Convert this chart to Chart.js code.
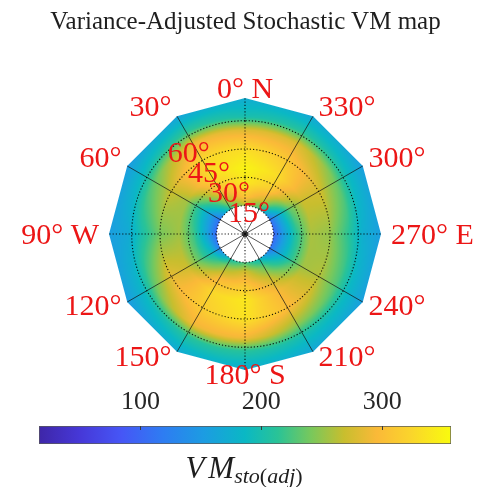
<!DOCTYPE html>
<html>
<head>
<meta charset="utf-8">
<script src="https://cdn.jsdelivr.net/npm/chart.js@4.4.1/dist/chart.umd.min.js"></script>
<style>
  html, body { margin: 0; padding: 0; background: #fff; }
  #wrap { position: relative; width: 483px; height: 487px; overflow: hidden; }
  #title { position: absolute; left: 0; top: 7px; width: 491px; text-align: center;
           font: 25px "Liberation Serif", serif; color: #1e1e1e; white-space: nowrap; }
  #sky { position: absolute; left: 0; top: 0; }
  #cbar { position: absolute; left: 0; top: 380px; }
  #cbLabel { position: absolute; left: 0; top: 450px; width: 488px; text-align: center;
             font: italic 31px "Liberation Serif", serif; color: #1e1e1e; white-space: nowrap; }
  #cbLabel sub { font-size: 22px; vertical-align: -5px; }
  #cbLabel .up { font-style: normal; }
</style>
</head>
<body>
<div id="wrap">
  <canvas id="sky" width="483" height="487"></canvas>
  <canvas id="cbar" width="483" height="75"></canvas>
  <div id="title">Variance-Adjusted Stochastic VM map</div>
  <div id="cbLabel">V<span style="margin-left:4px">M</span><sub>sto<span class="up">(</span>adj<span class="up">)</span></sub></div>
</div>
<script>
// Sky grid: azimuth of each spoke (deg, counter-clockwise from north) and zenith rings (deg)
const azimuthDeg = [0, 30, 60, 90, 120, 150, 180, 210, 240, 270, 300, 330];
const zenithDeg  = [15, 20, 27, 35, 45, 55, 62, 72];

// VM_sto(adj) along each azimuth, one value per zenith ring
const vmAz0   = [260, 310, 340, 350, 330, 280, 200, 172];
const vmAz30  = [210, 255, 305, 330, 325, 290, 215, 160];
const vmAz60  = [110, 150, 200, 255, 270, 235, 190, 152];
const vmAz90  = [100, 160, 220, 255, 240, 200, 168, 155];
const vmAz120 = [120, 190, 230, 270, 285, 235, 185, 152];
const vmAz150 = [200, 250, 295, 325, 315, 290, 210, 168];
const vmAz180 = [225, 275, 310, 340, 335, 290, 210, 172];
const vmAz210 = [190, 235, 270, 295, 300, 250, 198, 165];
const vmAz240 = [110, 160, 210, 255, 262, 228, 188, 155];
const vmAz270 = [ 95, 150, 210, 258, 250, 212, 175, 155];
const vmAz300 = [110, 165, 235, 270, 275, 238, 192, 155];
const vmAz330 = [215, 270, 315, 330, 310, 280, 210, 165];

// Axis annotations
const azimuthLabels = ['0\u00B0 N', '30\u00B0', '60\u00B0', '90\u00B0 W', '120\u00B0', '150\u00B0',
                       '180\u00B0 S', '210\u00B0', '240\u00B0', '270\u00B0 E', '300\u00B0', '330\u00B0'];
const ringTicks  = [15, 30, 45, 60];
const ringLabels = ['15\u00B0', '30\u00B0', '45\u00B0', '60\u00B0'];
const cbTicks = [100, 200, 300];
const cbRange = [16, 357];

const vmGrid = [vmAz0, vmAz30, vmAz60, vmAz90, vmAz120, vmAz150,
                vmAz180, vmAz210, vmAz240, vmAz270, vmAz300, vmAz330];

// parula-style colour ramp
const parula = [
  [0.00, [62, 38, 168]], [0.10, [70, 56, 216]], [0.20, [70, 86, 246]],
  [0.30, [46, 124, 242]], [0.40, [28, 156, 226]], [0.50, [10, 184, 196]],
  [0.58, [42, 195, 150]], [0.66, [120, 200, 92]], [0.74, [200, 190, 46]],
  [0.82, [250, 185, 56]], [0.90, [250, 212, 44]], [1.00, [249, 251, 14]]
];
function rampColor(t) {
  t = Math.max(0, Math.min(1, t));
  for (let i = 1; i < parula.length; i++) {
    if (t <= parula[i][0]) {
      const [t0, c0] = parula[i - 1], [t1, c1] = parula[i];
      const f = (t - t0) / (t1 - t0);
      return c0.map((v, k) => v + (c1[k] - v) * f);
    }
  }
  return parula[parula.length - 1][1];
}

const D2R = Math.PI / 180;
const rInner = zenithDeg[0];
const rOuter = zenithDeg[zenithDeg.length - 1];
const azStep = 360 / azimuthDeg.length;

// bilinear sample of the grid in (azimuth, zenith)
function sampleVM(az, zen) {
  const n = azimuthDeg.length;
  const i0 = Math.floor(az / azStep) % n, i1 = (i0 + 1) % n;
  const fa = (az - azimuthDeg[i0]) / azStep;
  let k = 0;
  while (k < zenithDeg.length - 2 && zen > zenithDeg[k + 1]) k++;
  const fz = Math.max(0, Math.min(1, (zen - zenithDeg[k]) / (zenithDeg[k + 1] - zenithDeg[k])));
  const a = vmGrid[i0][k] + (vmGrid[i0][k + 1] - vmGrid[i0][k]) * fz;
  const b = vmGrid[i1][k] + (vmGrid[i1][k + 1] - vmGrid[i1][k]) * fz;
  return a + (b - a) * fa;
}

// cartesian position (deg units) of an (azimuth, zenith) pair; north up, west left
const toXY = (az, r) => ({ x: -r * Math.sin(az * D2R), y: r * Math.cos(az * D2R) });

// interpolated field painted pixel by pixel through the chart scales
const skyField = {
  id: 'skyField',
  beforeDatasetsDraw(chart) {
    const { ctx, chartArea: a, scales: { x, y } } = chart;
    const w = Math.round(a.right - a.left), h = Math.round(a.bottom - a.top);
    const off = document.createElement('canvas');
    off.width = w; off.height = h;
    const octx = off.getContext('2d');
    const img = octx.createImageData(w, h);
    const pxPerDeg = Math.abs(x.getPixelForValue(1) - x.getPixelForValue(0));
    const halfStep = azStep / 2;
    for (let j = 0; j < h; j++) {
      const vy = y.getValueForPixel(a.top + j + 0.5);
      for (let i = 0; i < w; i++) {
        const vx = x.getValueForPixel(a.left + i + 0.5);
        const r = Math.hypot(vx, vy);
        if (r > rOuter + 2 || r < rInner - 2) continue;
        let az = Math.atan2(-vx, vy) / D2R;
        if (az < 0) az += 360;
        const loc = (az % azStep) - halfStep;
        const edge = rOuter * Math.cos(halfStep * D2R) / Math.cos(loc * D2R);
        const aOut = Math.max(0, Math.min(1, (edge - r) * pxPerDeg + 0.5));
        const aIn = Math.max(0, Math.min(1, (r - rInner) * pxPerDeg + 0.5));
        const alpha = Math.min(aOut, aIn);
        if (alpha <= 0) continue;
        const v = sampleVM(az, Math.max(rInner, Math.min(rOuter, r)));
        const c = rampColor((v - cbRange[0]) / (cbRange[1] - cbRange[0]));
        const p = (j * w + i) * 4;
        img.data[p] = c[0]; img.data[p + 1] = c[1]; img.data[p + 2] = c[2];
        img.data[p + 3] = Math.round(alpha * 255);
      }
    }
    octx.putImageData(img, 0, 0);
    ctx.drawImage(off, a.left, a.top);
  }
};

// azimuth and zenith annotations
const skyLabels = {
  id: 'skyLabels',
  afterDatasetsDraw(chart) {
    const { ctx, scales: { x, y } } = chart;
    const px = (p) => [x.getPixelForValue(p.x), y.getPixelForValue(p.y)];
    ctx.save();
    ctx.fillStyle = 'rgb(236,22,22)';
    ctx.font = '30px "Liberation Serif", serif';
    ctx.textBaseline = 'alphabetic';
    azimuthDeg.forEach((az, i) => {
      const [lx, ly] = px(toXY(az, 72.5));
      const dx = -Math.sin(az * D2R), dy = -Math.cos(az * D2R);
      let xx = lx, yy;
      if (dx < -0.1) { ctx.textAlign = 'right'; xx -= Math.abs(dy) < 0.1 ? 9 : 5; }
      else if (dx > 0.1) { ctx.textAlign = 'left'; xx += Math.abs(dy) < 0.1 ? 9 : 5; }
      else ctx.textAlign = 'center';
      if (dy < -0.1) yy = ly + 1;
      else if (dy > 0.1) yy = ly + 13;
      else yy = ly + 10;
      ctx.fillText(azimuthLabels[i], xx, yy);
    });
    ctx.textAlign = 'left';
    ringTicks.forEach((r, i) => {
      const [lx, ly] = px(toXY(45, r));
      ctx.fillText(ringLabels[i], lx + 3, ly + 8);
    });
    ctx.restore();
  }
};

// dotted rings, spokes and pole marker
const gridSets = [];
ringTicks.forEach(r => {
  const pts = [];
  for (let a = 0; a <= 360; a += 2) pts.push(toXY(a, r));
  gridSets.push({ type: 'line', data: pts, borderColor: 'rgba(0,0,0,0.9)', borderWidth: 1.1,
                  borderDash: [1.2, 2], pointRadius: 0, tension: 0, fill: false });
});
azimuthDeg.forEach(az => {
  const cardinal = az % 90 === 0;
  gridSets.push({ type: 'line', data: [toXY(az, 0), toXY(az, rOuter)],
                  borderColor: cardinal ? 'rgba(0,0,0,0.9)' : 'rgba(20,20,20,0.8)',
                  borderWidth: cardinal ? 1.1 : 0.9, borderDash: cardinal ? [1.2, 2] : [],
                  pointRadius: 0, fill: false });
});
gridSets.push({ type: 'scatter', data: [toXY(0, 0)], pointRadius: 2.6,
                backgroundColor: 'rgba(70,70,70,0.9)', borderColor: 'rgba(30,30,30,1)', borderWidth: 0.8 });

new Chart(document.getElementById('sky'), {
  type: 'scatter',
  data: { datasets: gridSets },
  options: {
    responsive: false, animation: false,
    layout: { padding: { left: 75, right: 68, top: 64, bottom: 83 } },
    plugins: { legend: { display: false }, tooltip: { enabled: false } },
    scales: {
      x: { type: 'linear', min: -90, max: 90, display: false },
      y: { type: 'linear', min: -90, max: 90, display: false }
    }
  },
  plugins: [skyField, skyLabels]
});

// colour bar
const cbMarks = {
  id: 'cbMarks',
  afterDatasetsDraw(chart) {
    const { ctx, chartArea: a, scales: { x } } = chart;
    ctx.save();
    ctx.strokeStyle = '#3a3a3a'; ctx.lineWidth = 1;
    cbTicks.forEach(v => {
      const px = Math.round(x.getPixelForValue(v)) + 0.5;
      ctx.beginPath(); ctx.moveTo(px, a.top); ctx.lineTo(px, a.top + 4); ctx.stroke();
    });
    ctx.restore();
  }
};

new Chart(document.getElementById('cbar'), {
  type: 'bar',
  data: {
    labels: [''],
    datasets: [{
      data: [cbRange],
      backgroundColor: (c) => {
        const ch = c.chart;
        if (!ch.chartArea) return 'transparent';
        const sx = ch.scales.x;
        const g = ch.ctx.createLinearGradient(sx.getPixelForValue(cbRange[0]), 0, sx.getPixelForValue(cbRange[1]), 0);
        parula.forEach(([t, col]) => g.addColorStop(t, `rgb(${col.join(',')})`));
        return g;
      },
      borderColor: '#5a5a5a', borderWidth: 1, borderSkipped: false,
      barPercentage: 1, categoryPercentage: 1
    }]
  },
  options: {
    indexAxis: 'y', responsive: false, animation: false,
    layout: { padding: { left: 39, right: 32, top: 0, bottom: 11 } },
    plugins: { legend: { display: false }, tooltip: { enabled: false } },
    scales: {
      x: {
        type: 'linear', position: 'top', min: cbRange[0], max: cbRange[1],
        grid: { display: false, drawTicks: false }, border: { display: false },
        afterBuildTicks: s => { s.ticks = cbTicks.map(v => ({ value: v })); },
        afterFit: s => { s.height = 46; },
        ticks: { padding: 8, color: '#262626', font: { family: '"Liberation Serif", serif', size: 26 } }
      },
      y: { display: false }
    }
  },
  plugins: [cbMarks]
});
</script>
</body>
</html>
